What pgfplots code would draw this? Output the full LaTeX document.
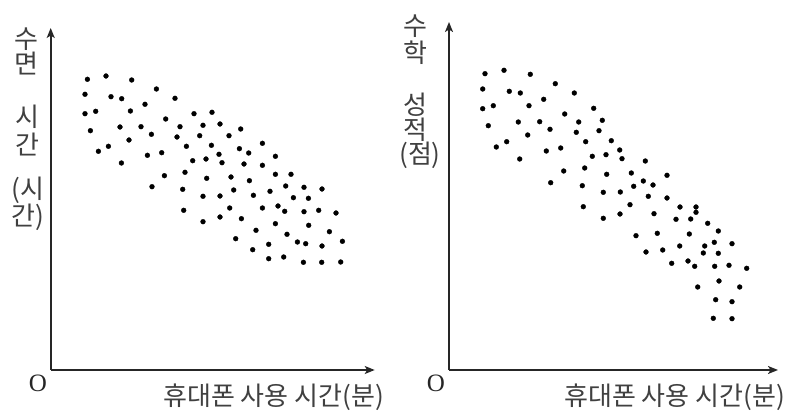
\documentclass[border=0pt]{standalone}
\usepackage{pgfplots}
\pgfplotsset{compat=1.18}
\usepackage{fontspec}
\setmainfont{Liberation Serif}
\newfontfamily\kr{Noto Sans CJK KR}
\usetikzlibrary{arrows.meta}

\pgfplotstableread{
x y
36.7 290.7
55.3 294
81 290
34.3 275.7
60.3 273.3
71 271.3
105.7 281
124.3 271.7
94.3 265.7
34.3 256.3
45 258.7
79.7 259
143.3 256.3
161.3 257.7
115 251
39.7 239.3
69.3 243
90.3 243.3
129.3 243.3
152.3 244.7
169.3 246
78.3 230
100.7 235.7
126.3 233
149 234.3
178.3 234.3
190 241
47.7 218.7
57.7 223.7
70.7 207
96.7 214.7
111 217.3
135.7 223.7
160.7 224.7
188.7 221.3
198 217
211.7 226.7
142 209.3
155.3 211
168.3 215.7
171.3 207.3
193.3 206
211.7 204.7
224.7 213.7
113.7 194.3
134.3 197.7
101.3 183.3
156 191.7
180.3 193
198.7 189.3
224.7 195.7
240.3 195.7
132 180.7
152.3 173.7
169.3 174
183 180
202.7 174.7
219.3 178.7
235 184
253.3 182.7
271.3 181
242.7 172.3
257.7 171.7
133 159.7
179 162
211.7 162
227.3 164
234 158.7
253.3 158.3
268 159.7
285.3 157
152.3 148.3
169.3 153
190.7 151.3
224.7 146.3
258 144.7
205.3 139.7
236.3 135.7
278.7 138.3
185 131.3
218 125.7
246.7 128
255 126.3
271.3 124
291.7 128.7
202 120.3
218 111.3
233 113
252.7 107.7
271 107.7
290 108
}\sleep

\pgfplotstableread{
x y
36 296.3
55 299.7
81.3 295.7
33.7 281
60.3 278.7
71.3 277
106.3 286.3
125.3 277
94.7 270.7
33.7 261.3
44.3 264.3
80 264.3
144.7 261.7
115.7 256
153.3 249.7
39.3 244.3
69.3 248
90.7 248.3
129.7 248
101 240.7
78.7 235
127.3 237.7
150 239.3
47.3 223
57.7 228.3
70.7 211
97.3 219
111.7 222
136.7 228.3
162.3 229.3
143.3 213.7
157 215.3
170.7 220
173 211.3
196.3 209
114.7 199
135.7 202
157.7 195.7
182.3 197
218 194.7
101.7 187.3
133.3 184.3
154.3 177.7
171.3 178
184.7 183.7
194.3 189
204 185
199.3 173.7
218 172
134.3 163.3
154.3 151.7
171 156
181 165.3
205 156.3
231 163
247 163
247 157.7
227 150.7
241.7 151
258.7 146.7
187 134.3
208.3 136.7
240.3 136
269.3 139
197 118
213.7 120
230.7 124
255.7 124
254.3 117
265.3 127.7
269.3 116.7
283 126.3
222.7 106.7
239 109
245.7 103.7
265.7 103.7
280 104.7
297.7 101.7
248.7 83
270 89
290.7 83
266.7 70.3
283 68.3
264.3 51.7
283 51.3
}\math

\pgfplotsset{
  dotaxis/.style={
    anchor=south west, x=1pt, y=1pt, scale only axis,
    xmin=0, ymin=0,
    axis lines=left,
    axis line style={line width=1.6pt, black!85, -{Stealth[length=10pt,width=8pt,inset=2.5pt]}},
    xtick=\empty, ytick=\empty, clip=false,
  },
}

\begin{document}
\begin{tikzpicture}[x=1pt,y=1pt]
\path (0,0) rectangle (800,420);

\begin{axis}[dotaxis, at={(50.7,50)}, xmax=324, ymax=342]
\addplot[only marks, mark=*, mark size=2.4pt, black] table[x=x,y=y] {\sleep};
\end{axis}

\begin{axis}[dotaxis, at={(449,50)}, xmax=329, ymax=348]
\addplot[only marks, mark=*, mark size=2.4pt, black] table[x=x,y=y] {\math};
\end{axis}

% origin labels
\node[font=\fontsize{25}{25}\selectfont, text=black!85] at (38,37) {O};
\node[font=\fontsize{25}{25}\selectfont, text=black!85] at (436,37) {O};

\begin{scope}[every node/.style={font=\kr\fontsize{26}{26}\selectfont, text=black!75, inner sep=0pt}]
% x labels
\node at (273.5,23) {휴대폰 사용 시간(분)};
\node at (674.5,23) {휴대폰 사용 시간(분)};
% left y label
\node at (26,381) {수};
\node at (26,356.5) {면};
\node at (27,303) {시};
\node at (27,275) {간};
\node at (28,230) {(시};
\node at (28,203) {간)};
% right y label
\node at (415,394) {수};
\node at (415,367) {학};
\node at (415,315) {성};
\node at (415,290) {적};
\node at (420,265) {(점)};
\end{scope}
\end{tikzpicture}
\end{document}
